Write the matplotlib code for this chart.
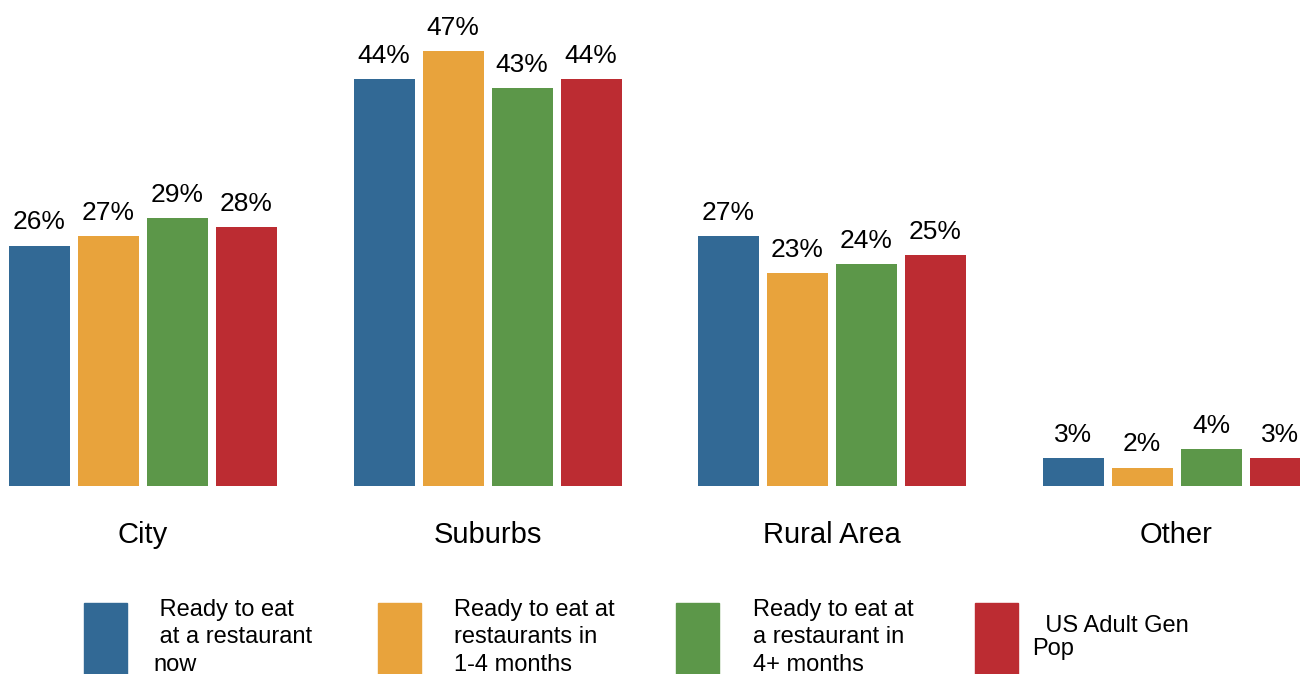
import matplotlib
matplotlib.use("Agg")
import matplotlib.pyplot as plt
from matplotlib.patches import Rectangle
import numpy as np

plt.rcParams['font.family'] = ['Liberation Sans', 'DejaVu Sans']

# Location of residence by dining readiness
categories = ["City", "Suburbs", "Rural Area", "Other"]
series_names = [
    " Ready to eat\n at a restaurant\nnow",
    "Ready to eat at\nrestaurants in\n1-4 months",
    "Ready to eat at\na restaurant in\n4+ months",
    "  US Adult Gen\nPop",
]
ready_now = [26, 44, 27, 3]
ready_1_4 = [27, 47, 23, 2]
ready_4plus = [29, 43, 24, 4]
gen_pop = [28, 44, 25, 3]

colors = ["#326995", "#e8a33c", "#5c9749", "#bc2c32"]

W, H = 1300, 674
fig = plt.figure(figsize=(W / 100, H / 100), dpi=100)

# axes runs from the top edge down to the bar baseline
base_px = 486
ax = fig.add_axes([0, (H - base_px) / H, 1, base_px / H])
ax.set_axis_off()

px_per_unit = 344.5          # pixels between group centres
first_centre = 143
ax.set_xlim(-first_centre / px_per_unit, (W - first_centre) / px_per_unit)
ax.set_ylim(0, base_px / 9.25)

x = np.arange(len(categories))
pitch = 69 / px_per_unit
width = 61 / px_per_unit
all_series = [ready_now, ready_1_4, ready_4plus, gen_pop]

for j, (vals, col) in enumerate(zip(all_series, colors)):
    pos = x + (j - 1.5) * pitch
    bars = ax.bar(pos, vals, width=width, color=col, clip_on=True)
    for b, v in zip(bars, vals):
        ax.annotate(f"{v}%", (b.get_x() + b.get_width() / 2, v),
                    xytext=(0, 8), textcoords="offset points",
                    ha="center", va="bottom", fontsize=19, color="black",
                    annotation_clip=False)

# category names under each group
for i, cat in enumerate(categories):
    ax.text(x[i], -49 / 9.25, cat, ha="center", va="center", fontsize=21,
            color="black", clip_on=False)

# legend drawn as swatches with free text beside them
swatch_left = [84, 378, 676, 975]
text_left = [153, 454, 753, 1032]
for name, col, sl, tl in zip(series_names, colors, swatch_left, text_left):
    fig.patches.append(Rectangle((sl / W, 0), 43 / W, (H - 603) / H,
                                 transform=fig.transFigure, color=col))
    if "Pop" in name:
        fig.text(tl / W, 1 - 615 / H, name, ha="left", va="top",
                 fontsize=17, linespacing=1.05)
    else:
        fig.text(tl / W, 1 - 599 / H, name, ha="left", va="top",
                 fontsize=17, linespacing=1.32)

fig.savefig("out.png", dpi=100)
